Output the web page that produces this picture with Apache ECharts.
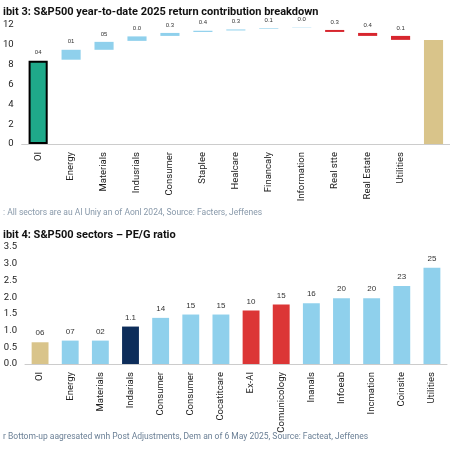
<!DOCTYPE html>
<html>
<head>
<meta charset="utf-8">
<script src="https://cdn.jsdelivr.net/npm/echarts@6/dist/echarts.min.js"></script>
<style>
  html, body { margin: 0; padding: 0; background: #fff; }
  #main { width: 450px; height: 450px; }
</style>
</head>
<body>
<div id="main"></div>
<script>
// Exhibit 3 - waterfall
const topCats = ['OI', 'Energy', 'Materials', 'Indusrials', 'Consumer', 'Staplee', 'Healcare', 'Financaly', 'Information', 'Real stte', 'Real Estate', 'Utilities', ''];
const topBase = [0, 8.5, 9.5, 10.4, 10.9, 11.3, 11.45, 11.6, 11.7, 11.3, 10.9, 10.5, 0];
const topSize = [8.4, 1.0, 0.8, 0.45, 0.3, 0.12, 0.1, 0.06, 0.03, 0.2, 0.3, 0.4, 10.5];
const topLabels = ['04', '01', '05', '0.0', '0.3', '0.4', '0.3', '0.1', '0.0', '0.3', '0.4', '0.1', ''];
const topKinds = ['total', 'up', 'up', 'up', 'up', 'up', 'up', 'up', 'up', 'down', 'down', 'down', 'end'];

// Exhibit 4 - PE/G
const botCats = ['OI', 'Energy', 'Materials', 'Indarials', 'Consumer', 'Consumer', 'Cocatitcare', 'Ex-AI', 'Comunicology', 'Inanals', 'Infoeab', 'Incmation', 'Coinsite', 'Utilities'];
const botValues = [0.65, 0.7, 0.7, 1.12, 1.38, 1.48, 1.48, 1.6, 1.78, 1.82, 1.97, 1.97, 2.33, 2.88];
const botLabels = ['06', '07', '02', '1.1', '14', '15', '15', '10', '15', '16', '20', '20', '23', '25'];
const botKinds = ['gold', 'blue', 'blue', 'navy', 'blue', 'blue', 'blue', 'red', 'red', 'blue', 'blue', 'blue', 'blue', 'blue'];

const colors = {
  total: '#1fa98a', up: '#8fd0ec', down: '#d7262e', end: '#d9c48a',
  gold: '#d9c48a', blue: '#8fd0ec', navy: '#0d2d5a', red: '#dc3636'
};

const font = 'Roboto, "Liberation Sans", sans-serif';
const axisLbl = { color: '#222', fontSize: 9.5, fontFamily: font };

const chart = echarts.init(document.getElementById('main'));
chart.setOption({
  animation: false,
  backgroundColor: '#fff',
  title: [
    { text: 'ibit 3: S&P500 year-to-date 2025 return contribution breakdown', left: -2, top: 2,
      textStyle: { fontSize: 11, fontWeight: 'bold', color: '#111', fontFamily: font } },
    { text: ': All sectors are au AI Uniy an of Aonl 2024, Source: Facters, Jeffenes', left: -2, top: 203,
      textStyle: { fontSize: 8.5, fontWeight: 'normal', color: '#8899aa', fontFamily: font } },
    { text: 'ibit 4: S&P500 sectors \u2013 PE/G ratio', left: -2, top: 225,
      textStyle: { fontSize: 11, fontWeight: 'bold', color: '#111', fontFamily: font } },
    { text: 'r Bottom-up aagresated wnh Post Adjustments, Dem an of 6 May 2025, Source: Facteat, Jeffenes', left: -2, top: 427,
      textStyle: { fontSize: 8.5, fontWeight: 'normal', color: '#6a7f95', fontFamily: font } }
  ],
  grid: [
    { left: 21, right: -24, top: 25, height: 119 },
    { left: 25, right: 3, top: 247, height: 117 }
  ],
  xAxis: [
    { type: 'category', gridIndex: 0, data: topCats, axisTick: { show: false },
      axisLine: { lineStyle: { color: '#ccc' } }, axisLabel: Object.assign({ rotate: 90, interval: 0 }, axisLbl) },
    { type: 'category', gridIndex: 1, data: botCats, axisTick: { show: false },
      axisLine: { lineStyle: { color: '#ccc' } }, axisLabel: Object.assign({ rotate: 90, interval: 0 }, axisLbl) }
  ],
  yAxis: [
    { type: 'value', gridIndex: 0, min: 0, max: 12, interval: 2, splitLine: { show: false },
      axisLabel: axisLbl },
    { type: 'value', gridIndex: 1, min: 0, max: 3.5, interval: 0.5, splitLine: { show: false },
      axisLabel: Object.assign({ formatter: v => v.toFixed(1) }, axisLbl) }
  ],
  series: [
    { type: 'bar', xAxisIndex: 0, yAxisIndex: 0, stack: 'wf', data: topBase, barWidth: '58%',
      itemStyle: { color: 'transparent' }, silent: true },
    { type: 'bar', xAxisIndex: 0, yAxisIndex: 0, stack: 'wf', barWidth: '58%',
      data: topSize.map((v, i) => ({
        value: v,
        itemStyle: Object.assign({ color: colors[topKinds[i]] },
          topKinds[i] === 'total' ? { borderColor: '#000', borderWidth: 2 } : {}),
        label: topKinds[i] === 'end' ? { show: false } : {}
      })),
      label: { show: true, position: 'top', fontSize: 6, color: '#333',
        formatter: p => topLabels[p.dataIndex] } },
    { type: 'bar', xAxisIndex: 1, yAxisIndex: 1, barWidth: '56%',
      data: botValues.map((v, i) => ({ value: v, itemStyle: { color: colors[botKinds[i]] } })),
      label: { show: true, position: 'top', fontSize: 8, color: '#333',
        formatter: p => botLabels[p.dataIndex] } }
  ]
});
</script>
</body>
</html>
